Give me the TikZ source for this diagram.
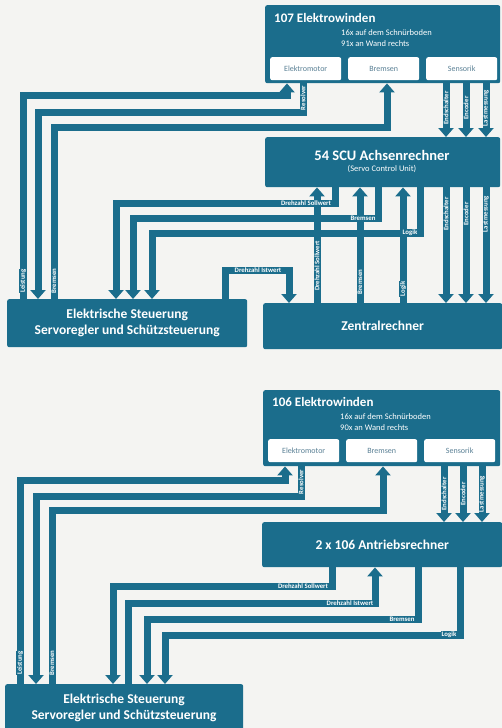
\documentclass[tikz,border=0pt]{standalone}
\usepackage{fontspec}
\setmainfont{Carlito}
\usetikzlibrary{arrows.meta}
\definecolor{tb}{HTML}{1B6D8C}
\definecolor{bg}{HTML}{F4F4F2}
\definecolor{subtxt}{HTML}{5A8095}
\tikzset{
  blk/.style={fill=tb, rounded corners=2pt, inner sep=0pt, text=white},
  big/.style={font=\fontsize{13.5}{16}\selectfont\bfseries},
  ttl/.style={text=white, inner sep=0pt, font=\fontsize{13}{14}\selectfont\bfseries},
  smalltxt/.style={text=white, inner sep=0pt, font=\fontsize{8.5}{9}\selectfont},
  subbox/.style={fill=white, rounded corners=2pt, text=subtxt, inner sep=0pt,
    minimum width=71pt, minimum height=23pt, anchor=north west, font=\fontsize{8}{9}\selectfont},
  flow/.style={draw=tb, line width=7pt, line join=miter},
  arr/.style={flow, -{Triangle[width=15pt,length=9pt]}},
  lbl/.style={fill=tb, text=white, inner sep=0.6pt, font=\fontsize{6.8}{7}\selectfont\bfseries},
  vlbl/.style={lbl, rotate=90},
}
\begin{document}
\begin{tikzpicture}[x=1pt,y=-1pt]
\fill[bg] (0,0) rectangle (502,728);
\useasboundingbox (0,0) rectangle (502,728);

% ================= TOP DIAGRAM =================
\node[blk, anchor=north west, minimum width=235pt, minimum height=78pt] (w1) at (265,5) {};
\node[ttl, anchor=west] (w1t) at (274,18) {107 Elektrowinden};
\node[smalltxt, anchor=west] (w1a) at (341,33) {16x auf dem Schnürboden};
\node[smalltxt, anchor=west] (w1b) at (341,44) {91x an Wand rechts};
\node[subbox] (em1) at (270,57) {Elektromotor};
\node[subbox] (br1) at (348,57) {Bremsen};
\node[subbox] (se1) at (426,57) {Sensorik};

\node[blk, anchor=north west, minimum width=235pt, minimum height=50pt] (scu) at (265,137) {};
\node[ttl, font=\fontsize{14.5}{15}\selectfont\bfseries] (scut) at (382,155) {54 SCU Achsenrechner};
\node[smalltxt] (scus) at (382,169) {(Servo Control Unit)};

\node[blk, big, anchor=north west, minimum width=239pt, minimum height=46pt] (zr) at (263,303) {Zentralrechner};
\node[blk, big, anchor=north west, minimum width=240pt, minimum height=48pt, align=center] (st1) at (7,299) {Elektrische Steuerung\\Servoregler und Schützsteuerung};

% Steuerung <-> Elektrowinden
\draw[arr] (23,0 |- st1.north) |- (287,95) -- (287,0 |- w1.south);
\draw[arr] (303,0 |- w1.south) |- (38,112) -- (38,0 |- st1.north);
\draw[arr] (54,0 |- st1.north) |- (387,127) -- (387,0 |- w1.south);
% Sensorik -> SCU -> Zentral
\foreach \x in {446,466,486}{
  \draw[arr] (\x,0 |- w1.south) -- (\x,0 |- scu.north);
  \draw[arr] (\x,0 |- scu.south) -- (\x,0 |- zr.north);
}
% Zentral -> SCU
\draw[arr] (317,0 |- zr.north) -- (317,0 |- scu.south);
\draw[arr] (360,0 |- zr.north) -- (360,0 |- scu.south);
\draw[arr] (403,0 |- zr.north) -- (403,0 |- scu.south);
% SCU -> Steuerung
\draw[arr] (335,0 |- scu.south) |- (116,203) -- (116,0 |- st1.north);
\draw[arr] (378,0 |- scu.south) |- (133,218) -- (133,0 |- st1.north);
\draw[arr] (420,0 |- scu.south) |- (152,233) -- (152,0 |- st1.north);
% Steuerung -> Zentral (Istwert)
\draw[arr] (225,0 |- st1.north) |- (289,270) -- (289,0 |- zr.north);

% labels
\node[vlbl] (l1) at (23,281) {Leistung};
\node[vlbl] (l2) at (54,281) {Bremsen};
\node[vlbl] (l3) at (303,98) {Resolver};
\node[vlbl] (l4) at (446,108) {Endschalter};
\node[vlbl] (l5) at (466,108) {Encoder};
\node[vlbl] (l6) at (486,108) {Lastmessung};
\node[vlbl] (l7) at (446,214) {Endschalter};
\node[vlbl] (l8) at (466,214) {Encoder};
\node[vlbl] (l9) at (486,214) {Lastmessung};
\node[vlbl] (l10) at (317,266) {Drehzahl Sollwert};
\node[vlbl] (l11) at (360,282) {Bremsen};
\node[vlbl] (l12) at (403,289) {Logik};
\node[lbl] (l13) at (306,203) {Drehzahl Sollwert};
\node[lbl] (l14) at (363,218) {Bremsen};
\node[lbl] (l15) at (410,233) {Logik};
\node[lbl] (l16) at (258,270) {Drehzahl Istwert};

% ================= BOTTOM DIAGRAM =================
\node[blk, anchor=north west, minimum width=237pt, minimum height=76pt] (w2) at (263,390) {};
\node[ttl, anchor=west] (w2t) at (272,402) {106 Elektrowinden};
\node[smalltxt, anchor=west] (w2a) at (340,417) {16x auf dem Schnürboden};
\node[smalltxt, anchor=west] (w2b) at (340,428) {90x an Wand rechts};
\node[subbox] (em2) at (268,439) {Elektromotor};
\node[subbox] (br2) at (346,439) {Bremsen};
\node[subbox] (se2) at (424,439) {Sensorik};

\node[blk, big, anchor=north west, minimum width=240pt, minimum height=45pt] (ar) at (262,522) {2 x 106 Antriebsrechner};
\node[blk, anchor=north west, minimum width=238pt, minimum height=56pt] (st2) at (5,684) {};
\node[big, text=white, align=center, inner sep=0pt] (st2t) at (124,708) {Elektrische Steuerung\\Servoregler und Schützsteuerung};

\draw[arr] (20,0 |- st2.north) |- (285,480) -- (285,0 |- w2.south);
\draw[arr] (301,0 |- w2.south) |- (36,496) -- (36,0 |- st2.north);
\draw[arr] (52,0 |- st2.north) |- (383,510) -- (383,0 |- w2.south);
\foreach \x in {444,463,482}{
  \draw[arr] (\x,0 |- w2.south) -- (\x,0 |- ar.north);
}
\draw[arr] (332,0 |- ar.south) |- (113,586) -- (113,0 |- st2.north);
\draw[arr] (128,0 |- st2.north) |- (375,603) -- (375,0 |- ar.south);
\draw[arr] (418,0 |- ar.south) |- (147,619) -- (147,0 |- st2.north);
\draw[arr] (460,0 |- ar.south) |- (165,635) -- (165,0 |- st2.north);

\node[vlbl] (m1) at (20,663) {Leistung};
\node[vlbl] (m2) at (52,663) {Bremsen};
\node[vlbl] (m3) at (301,482) {Resolver};
\node[vlbl] (m4) at (444,494) {Endschalter};
\node[vlbl] (m5) at (463,494) {Encoder};
\node[vlbl] (m6) at (482,494) {Lastmessung};
\node[lbl] (m7) at (303,586) {Drehzahl Sollwert};
\node[lbl] (m8) at (350,603) {Drehzahl Istwert};
\node[lbl] (m9) at (402,619) {Bremsen};
\node[lbl] (m10) at (449,635) {Logik};
\end{tikzpicture}
\end{document}
